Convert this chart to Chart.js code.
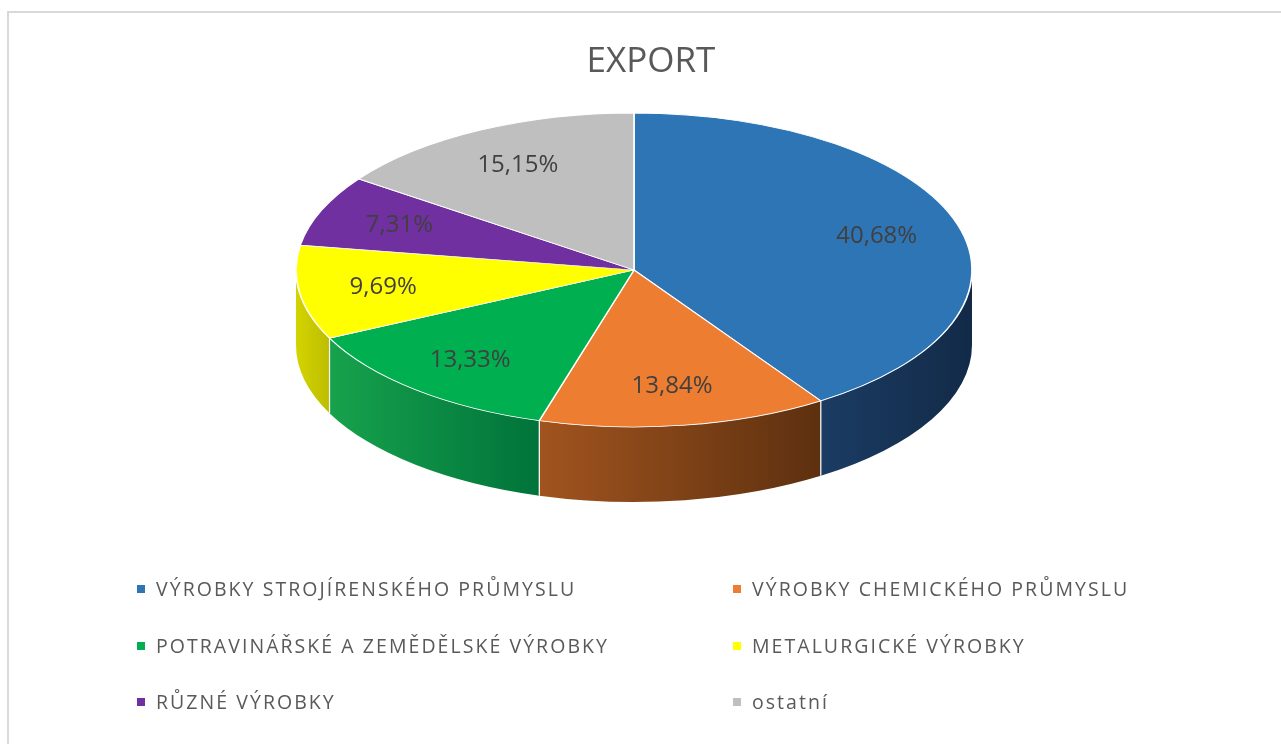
<!DOCTYPE html>
<html lang="cs">
<head>
<meta charset="utf-8">
<title>EXPORT</title>
<script src="https://cdn.jsdelivr.net/npm/chart.js@4.4.1/dist/chart.umd.min.js"></script>
<style>
    html, body { margin: 0; padding: 0; background: #fff; overflow: hidden; }
    #ramec { position: absolute; left: 7px; top: 11px; width: 1400px; height: 900px; border: 2px solid #d9d9d9; box-sizing: border-box; }
    #obal { position: absolute; left: 0; top: 0; width: 1281px; height: 744px; }
    #titulek { position: absolute; left: 0; top: 35px; width: 1302px; text-align: center; font: 35px 'Open Sans'; line-height: 48px; color: #595959; }
    #legenda { position: absolute; left: 137px; top: 561px; display: grid; grid-template-columns: 596px auto; grid-auto-rows: 56.5px; font: 19.5px 'Open Sans'; letter-spacing: 2.05px; line-height: 24px; color: #595959; }
    #legenda .polozka { display: flex; align-items: center; white-space: nowrap; }
    #legenda .ctverec { width: 8px; height: 8px; margin-right: 11px; flex: none; }
</style>
</head>
<body>
<div id="ramec"></div>
<div id="obal"><canvas id="grafExport"></canvas></div>
<div id="titulek">EXPORT</div>
<div id="legenda"></div>
<script>
// data
const kategorie = [
    'VÝROBKY STROJÍRENSKÉHO PRŮMYSLU',
    'VÝROBKY CHEMICKÉHO PRŮMYSLU',
    'POTRAVINÁŘSKÉ A ZEMĚDĚLSKÉ VÝROBKY',
    'METALURGICKÉ VÝROBKY',
    'RŮZNÉ VÝROBKY',
    'ostatní'
]
const podily = [40.68, 13.84, 13.33, 9.69, 7.31, 15.15]

// barvy: horni plocha a bok (zleva doprava)
const barvyPlochy = ['#2e75b6', '#ed7d31', '#00b050', '#ffff00', '#7030a0', '#bfbfbf']
const barvyBoku = [
    ['#1b3c63', '#122a48'],
    ['#a1541f', '#5d300f'],
    ['#17a24d', '#00733a'],
    ['#d4d400', '#bdbd00'],
    ['#4f2272', '#3a1854'],
    ['#8c8c8c', '#6f6f6f']
]

// tvar "3D" kolace
const RX = 338
const RY = 157
const HLOUBKA = 75
const POLOHA_POPISKU = 0.75

function popisek(v) {
    return v.toFixed(2).replace('.', ',') + '%'
}

const naklon = {
    id: 'naklon',
    beforeDatasetsDraw(chart) {
        const ctx = chart.ctx
        const oblouky = chart.getDatasetMeta(0).data
        const cx = oblouky[0].x
        const cy = oblouky[0].y
        const r = oblouky[0].outerRadius

        // bocni stena - jen predni polovina
        oblouky.forEach((o, i) => {
            const a1 = Math.max(o.startAngle, 0)
            const a2 = Math.min(o.endAngle, Math.PI)
            if (a2 <= a1) return
            const xL = cx + RX * Math.cos(a2)
            const xP = cx + RX * Math.cos(a1)
            const grad = ctx.createLinearGradient(xL, 0, xP, 0)
            grad.addColorStop(0, barvyBoku[i][0])
            grad.addColorStop(1, barvyBoku[i][1])
            ctx.beginPath()
            ctx.ellipse(cx, cy, RX, RY, 0, a1, a2)
            ctx.ellipse(cx, cy + HLOUBKA, RX, RY, 0, a2, a1, true)
            ctx.closePath()
            ctx.fillStyle = grad
            ctx.fill()
        })
        ctx.strokeStyle = '#ffffff'
        ctx.lineWidth = 1.2
        oblouky.forEach(o => {
            const a = o.startAngle
            if (a > 0 && a < Math.PI) {
                const x = cx + RX * Math.cos(a)
                const y = cy + RY * Math.sin(a)
                ctx.beginPath()
                ctx.moveTo(x, y)
                ctx.lineTo(x, y + HLOUBKA)
                ctx.stroke()
            }
        })

        ctx.save()
        ctx.translate(cx, cy)
        ctx.scale(RX / r, RY / r)
        ctx.translate(-cx, -cy)
    },
    afterDatasetsDraw(chart) {
        const ctx = chart.ctx
        ctx.restore()
        const oblouky = chart.getDatasetMeta(0).data
        const cx = oblouky[0].x
        const cy = oblouky[0].y
        ctx.save()
        ctx.font = '24px "Open Sans"'
        ctx.fillStyle = '#404040'
        ctx.textAlign = 'center'
        ctx.textBaseline = 'middle'
        oblouky.forEach((o, i) => {
            const m = (o.startAngle + o.endAngle) / 2
            const x = cx + RX * POLOHA_POPISKU * Math.cos(m)
            const y = cy + RY * POLOHA_POPISKU * Math.sin(m)
            ctx.fillText(popisek(podily[i]), x, y)
        })
        ctx.restore()
    }
}

var ctx = document.getElementById('grafExport')
var grafExport = new Chart(ctx, {
    type: 'pie',
    data: {
        labels: kategorie,
        datasets: [{
            data: podily,
            backgroundColor: barvyPlochy,
            borderColor: '#ffffff',
            borderWidth: 1.3,
            clip: false
        }]
    },
    options: {
        responsive: true,
        maintainAspectRatio: false,
        animation: false,
        rotation: 0,
        layout: {
            padding: { top: 0, left: 0, right: 13, bottom: 204 }
        },
        plugins: {
            legend: { display: false },
            tooltip: { enabled: false }
        },
        events: []
    },
    plugins: [naklon]
})

// legenda v HTML (2 sloupce)
const legenda = document.getElementById('legenda')
const polozky = Chart.overrides.pie.plugins.legend.labels.generateLabels(grafExport)
polozky.forEach(p => {
    const div = document.createElement('div')
    div.className = 'polozka'
    const ctverec = document.createElement('span')
    ctverec.className = 'ctverec'
    ctverec.style.background = p.fillStyle
    const text = document.createElement('span')
    text.textContent = p.text
    div.appendChild(ctverec)
    div.appendChild(text)
    legenda.appendChild(div)
})
</script>
</body>
</html>
